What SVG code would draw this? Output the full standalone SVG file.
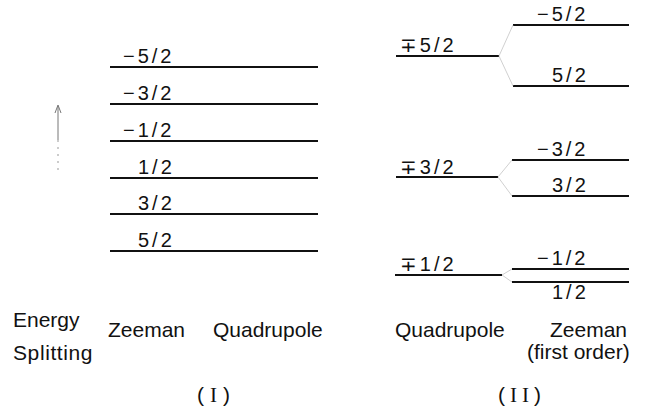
<svg xmlns="http://www.w3.org/2000/svg" width="657" height="413" viewBox="0 0 657 413">
<style>
.lvl{stroke:#111;stroke-width:2;fill:none}
.con{stroke:#c4c4c4;stroke-width:0.8;fill:none}
.lab{font-family:"Liberation Sans","DejaVu Sans",sans-serif;font-size:20px;letter-spacing:3px;fill:#111}
.txt{font-family:"Liberation Sans","DejaVu Sans",sans-serif;font-size:21px;fill:#111}
</style>
<rect width="657" height="413" fill="#fff"/>
<g id="arrow">
<line x1="58" y1="106" x2="58" y2="140" stroke="#777" stroke-width="1"/>
<line x1="58" y1="140" x2="58" y2="175" stroke="#999" stroke-width="1" stroke-dasharray="2 5"/>
<polyline points="55,113 58,105 61,113" stroke="#777" stroke-width="1" fill="none"/>
</g>
<g id="I-m5">
<line class="lvl" x1="110" y1="67" x2="318" y2="67"/>
<text class="lab" x="123" y="63">−5/2</text>
</g>
<g id="I-m3">
<line class="lvl" x1="110" y1="104" x2="318" y2="104"/>
<text class="lab" x="123" y="100">−3/2</text>
</g>
<g id="I-m1">
<line class="lvl" x1="110" y1="141" x2="318" y2="141"/>
<text class="lab" x="123" y="137">−1/2</text>
</g>
<g id="I-p1">
<line class="lvl" x1="110" y1="178" x2="318" y2="178"/>
<text class="lab" x="138" y="174">1/2</text>
</g>
<g id="I-p3">
<line class="lvl" x1="110" y1="214" x2="318" y2="214"/>
<text class="lab" x="138" y="210">3/2</text>
</g>
<g id="I-p5">
<line class="lvl" x1="110" y1="251" x2="318" y2="251"/>
<text class="lab" x="138" y="247">5/2</text>
</g>
<g id="Q-5">
<line class="lvl" x1="396" y1="56" x2="499" y2="56"/>
<text class="lab" x="400" y="52">∓5/2</text>
</g>
<g id="Q-3">
<line class="lvl" x1="396" y1="177" x2="498" y2="177"/>
<text class="lab" x="400" y="174">∓3/2</text>
</g>
<g id="Q-1">
<line class="lvl" x1="395" y1="275" x2="502" y2="275"/>
<text class="lab" x="400" y="271">∓1/2</text>
</g>
<g id="Z-m5">
<line class="lvl" x1="513" y1="25" x2="629" y2="25"/>
<text class="lab" x="537" y="21">−5/2</text>
</g>
<g id="Z-p5">
<line class="lvl" x1="513" y1="86" x2="629" y2="86"/>
<text class="lab" x="552" y="82">5/2</text>
</g>
<g id="Z-m3">
<line class="lvl" x1="512" y1="160" x2="629" y2="160"/>
<text class="lab" x="537" y="156">−3/2</text>
</g>
<g id="Z-p3">
<line class="lvl" x1="512" y1="196" x2="629" y2="196"/>
<text class="lab" x="552" y="192">3/2</text>
</g>
<g id="Z-m1">
<line class="lvl" x1="512" y1="269" x2="629" y2="269"/>
<text class="lab" x="537" y="265">−1/2</text>
</g>
<g id="Z-p1">
<line class="lvl" x1="512" y1="282" x2="629" y2="282"/>
<text class="lab" x="552" y="299">1/2</text>
</g>
<g id="connectors">
<line class="con" x1="499" y1="56" x2="513" y2="25"/>
<line class="con" x1="499" y1="56" x2="513" y2="86"/>
<line class="con" x1="498" y1="177" x2="512" y2="160"/>
<line class="con" x1="498" y1="177" x2="512" y2="196"/>
<line class="con" x1="502" y1="275" x2="512" y2="269"/>
<line class="con" x1="502" y1="275" x2="512" y2="282"/>
</g>
<g id="labels">
<text class="txt" x="13" y="327">Energy</text>
<text class="txt" x="13" y="360" letter-spacing="0.6">Splitting</text>
<text class="txt" x="108" y="337">Zeeman</text>
<text class="txt" x="213" y="337">Quadrupole</text>
<text class="txt" x="395" y="337">Quadrupole</text>
<text class="txt" x="550" y="337">Zeeman</text>
<text class="txt" x="527" y="359">(first order)</text>
<text class="txt" x="197" y="402" letter-spacing="6">(<tspan font-family="Liberation Serif">I</tspan>)</text>
<text class="txt" x="498" y="402" letter-spacing="5">(<tspan font-family="Liberation Serif">II</tspan>)</text>
</g>
</svg>
